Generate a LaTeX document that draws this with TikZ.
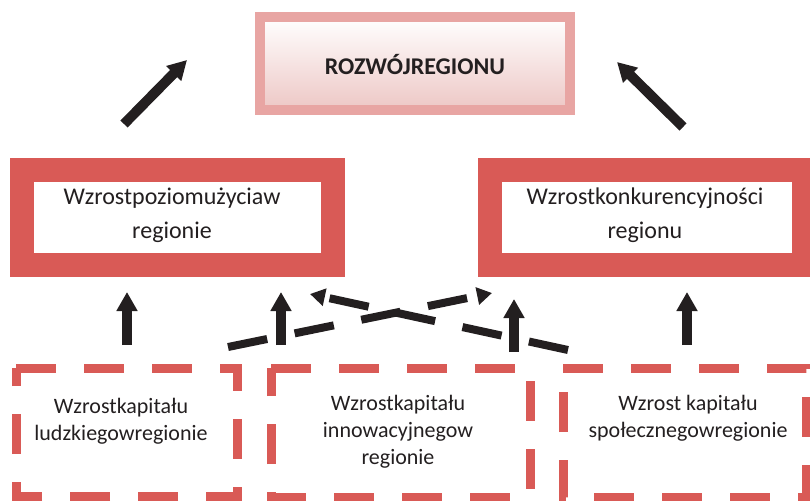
\documentclass[tikz,border=0pt]{standalone}
\usepackage{fontspec}
\setmainfont{Carlito}
\usetikzlibrary{arrows.meta}
\definecolor{boxred}{RGB}{217,90,86}
\definecolor{pinkborder}{RGB}{232,165,163}
\definecolor{pinkfill}{RGB}{237,199,197}
\definecolor{ink}{RGB}{35,31,32}
\begin{document}
\begin{tikzpicture}[x=1pt,y=-1pt,
  topbox/.style={draw=pinkborder, line width=10pt, top color=white, bottom color=pinkfill,
    minimum width=310pt, minimum height=93pt, inner sep=0pt, outer sep=0pt},
  midbox/.style={draw=boxred, line width=24pt, fill=white,
    minimum width=311pt, minimum height=95pt, inner sep=0pt, outer sep=0pt},
  lowbox/.style={inner sep=0pt, outer sep=0pt},
  dbox/.style={draw=boxred, line width=9pt, dash pattern=on 40pt off 28pt, line join=miter},
  toptxt/.style={text=ink, font=\fontsize{24}{28}\selectfont\bfseries},
  midtxt/.style={text=ink, align=center, font=\fontsize{24}{34}\selectfont},
  lowtxt/.style={text=ink, align=center, font=\fontsize{22}{27}\selectfont},
  bigarrow/.style={draw=ink, line width=10pt, -{Triangle[width=20pt,length=19pt]}},
  darrow/.style={draw=ink, line width=8pt, dash pattern=on 40pt off 28pt,
    -{Triangle[width=17pt,length=15pt]}},
]
\useasboundingbox (0,0) rectangle (810,500);

% top box
\node[topbox] (top) at (415,63.5) {};
\node[toptxt] (toplbl) at (415,65) {ROZWÓJREGIONU};

% middle boxes
\node[midbox] (left) at (177.5,217.5) {};
\node[midtxt] (lefttxt) at (172,215) {Wzrostpoziomużyciaw\\regionie};
\node[midbox, minimum width=314pt] (right) at (647,217.5) {};
\node[midtxt] (righttxt) at (645,215) {Wzrostkonkurencyjności\\regionu};

% bottom dashed boxes
\node[lowbox, minimum width=221pt, minimum height=128pt] (b1) at (126.5,432) {};
\node[lowbox, minimum width=259pt, minimum height=129pt] (b2) at (400.5,432.5) {};
\node[lowbox, minimum width=243pt, minimum height=129pt] (b3) at (684.5,432.5) {};
\draw[dbox] (b1.north west) -- (b1.north east) -- (b1.south east) -- (b1.south west) -- cycle;
\draw[dbox] (b2.north west) -- (b2.north east) -- (b2.south east) -- (b2.south west) -- cycle;
\draw[dbox] (b3.north west) -- (b3.north east) -- (b3.south east) -- (b3.south west) -- cycle;
\node[lowtxt] (b1txt) at (121,421) {Wzrostkapitału\\ludzkiegowregionie};
\node[lowtxt] (b2txt) at (398,431.5) {Wzrostkapitału\\innowacyjnegow\\regionie};
\node[lowtxt] (b3txt) at (688,418) {Wzrost kapitału\\społecznegowregionie};

% arrow end points
\coordinate (dl1) at (124,124);
\coordinate (dl2) at (187,60);
\coordinate (dr1) at (683,127);
\coordinate (dr2) at (617,62);
\coordinate (v1a) at (127,345);
\coordinate (v1b) at (127,292);
\coordinate (v2a) at (281,345);
\coordinate (v2b) at (281,292);
\coordinate (v3a) at (514,352);
\coordinate (v3b) at (514,299);
\coordinate (v4a) at (687,345);
\coordinate (v4b) at (687,292);
\coordinate (xa1) at (568,350);
\coordinate (xa2) at (310,294);
\coordinate (xb1) at (228,347);
\coordinate (xb2) at (492,293);

\draw[bigarrow] (dl1) -- (dl2);
\draw[bigarrow] (dr1) -- (dr2);
\draw[bigarrow] (v1a) -- (v1b);
\draw[bigarrow] (v2a) -- (v2b);
\draw[bigarrow] (v3a) -- (v3b);
\draw[bigarrow] (v4a) -- (v4b);
\draw[darrow] (xa1) -- (xa2);
\draw[darrow] (xb1) -- (xb2);
\end{tikzpicture}
\end{document}
